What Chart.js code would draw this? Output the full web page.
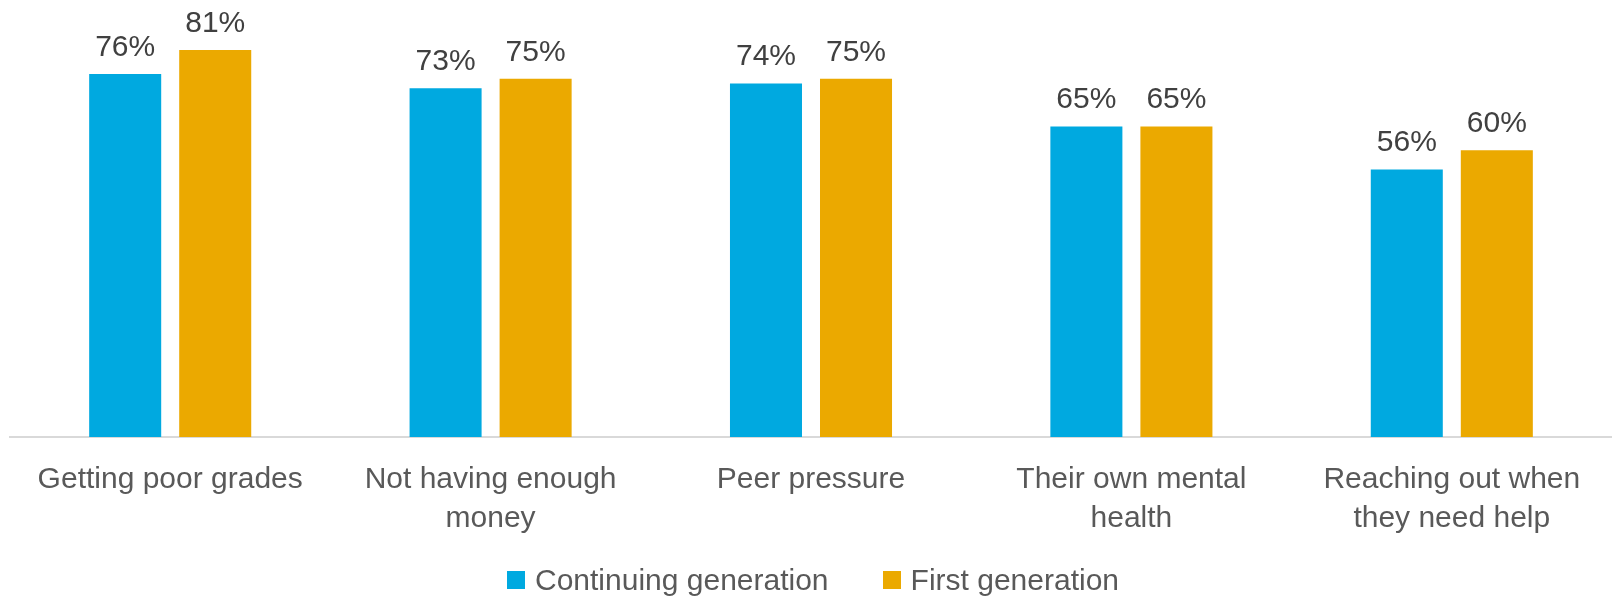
<!DOCTYPE html>
<html>
<head>
<meta charset="utf-8">
<title>Worries by generation</title>
<script src="https://cdn.jsdelivr.net/npm/chart.js@4.4.1/dist/chart.umd.min.js"></script>
<style>
  body { margin: 0; background: #fff; }
  #wrap { position: relative; width: 1612px; height: 597px; }
  #legend {
    position: absolute; left: 507px; top: 565px;
    display: flex; align-items: center;
    font: 30px/30px "Liberation Sans", Arial, sans-serif; color: #595959;
  }
  #legend .item { display: flex; align-items: center; margin-right: 54px; }
  #legend .swatch { width: 18px; height: 18px; margin-right: 10px; }
</style>
</head>
<body>
<div id="wrap">
  <canvas id="chart" width="1612" height="597"></canvas>
  <div id="legend"></div>
</div>
<script>
// categories (one array per label line)
const categories = [
  ["Getting poor grades"],
  ["Not having enough", "money"],
  ["Peer pressure"],
  ["Their own mental", "health"],
  ["Reaching out when", "they need help"],
];
const continuingGen = [76, 73, 74, 65, 56];
const firstGen = [81, 75, 75, 65, 60];
const seriesNames = ["Continuing generation", "First generation"];
const seriesColors = ["#00A9E0", "#EBA900"];

const FONT = '"Liberation Sans", Arial, sans-serif';

// percent labels above each bar
const valueLabels = {
  id: "valueLabels",
  afterDatasetsDraw(chart) {
    const ctx = chart.ctx;
    ctx.save();
    ctx.font = "30px " + FONT;
    ctx.fillStyle = "#404040";
    ctx.textAlign = "center";
    ctx.textBaseline = "alphabetic";
    chart.data.datasets.forEach((ds, i) => {
      chart.getDatasetMeta(i).data.forEach((bar, j) => {
        ctx.fillText(ds.data[j] + "%", bar.x, bar.y - 18);
      });
    });
    ctx.restore();
  },
};

const chart = new Chart(document.getElementById("chart"), {
  type: "bar",
  data: {
    labels: categories,
    datasets: [
      { label: seriesNames[0], data: continuingGen, backgroundColor: seriesColors[0] },
      { label: seriesNames[1], data: firstGen, backgroundColor: seriesColors[1] },
    ],
  },
  options: {
    responsive: false,
    animation: false,
    devicePixelRatio: 1,
    layout: { padding: { top: 7, left: 10, right: 0, bottom: 50 } },
    datasets: { bar: { categoryPercentage: 0.562, barPercentage: 0.8 } },
    plugins: {
      legend: { display: false },
      tooltip: { enabled: false },
    },
    scales: {
      x: {
        grid: { display: false },
        border: { display: true, color: "#D9D9D9", width: 2 },
        ticks: {
          color: "#595959",
          font: { family: FONT, size: 30, lineHeight: 1.3 },
          padding: 15,
          maxRotation: 0,
          autoSkip: false,
        },
        afterFit: (scale) => { scale.height = 110; },
      },
      y: { display: false, min: 0, max: 90 },
    },
  },
  plugins: [valueLabels],
});

// legend row under the chart
const legend = document.getElementById("legend");
seriesNames.forEach((name, i) => {
  const item = document.createElement("div");
  item.className = "item";
  item.innerHTML = '<span class="swatch" style="background:' + seriesColors[i] + '"></span>' + name;
  legend.appendChild(item);
});
</script>
</body>
</html>
